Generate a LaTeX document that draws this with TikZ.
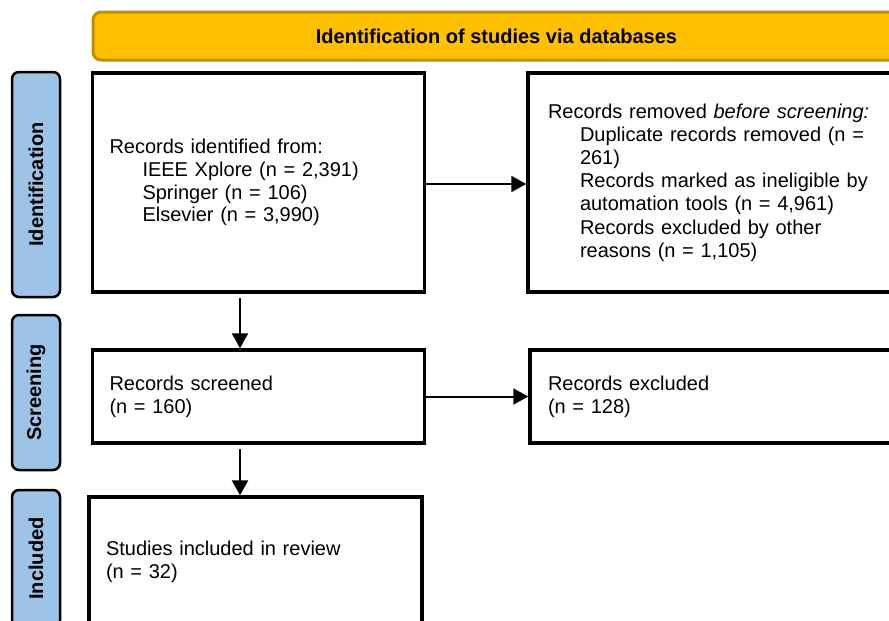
\documentclass[tikz,border=0pt]{standalone}
\usepackage{fontspec}
\setmainfont{Liberation Sans}
\usetikzlibrary{arrows.meta}
\definecolor{hdrfill}{HTML}{FFC000}
\definecolor{hdrdraw}{HTML}{BF9000}
\definecolor{lblfill}{HTML}{9DC3E6}
\begin{document}
\begin{tikzpicture}[x=1pt,y=-1pt,
  txt/.style={font=\fontsize{20}{22.8}\selectfont},
  box/.style={draw=black,line width=3.5pt,fill=white,inner xsep=17pt,inner ysep=0pt,
    align=left,txt,rectangle},
  header/.style={draw=hdrdraw,fill=hdrfill,line width=3pt,rounded corners=8pt,
    font=\bfseries\fontsize{20}{24}\selectfont,inner sep=0pt},
  phase/.style={draw=black,fill=lblfill,line width=2.5pt,rounded corners=7pt,
    rotate=90,font=\bfseries\fontsize{20}{24}\selectfont,inner sep=0pt,minimum height=48pt},
  arr/.style={line width=2.5pt,-{Triangle[width=16pt,length=15pt]}}]
\useasboundingbox (0,0) rectangle (889,621);

% header
\node[header,minimum width=807pt,minimum height=48pt] (hdr) at (496.5,36) {Identification of studies via databases};

% phase labels
\node[phase,minimum width=225pt] (pid) at (36,184.5) {Identification};
\node[phase,minimum width=155pt] (psc) at (36,392.5) {Screening};
\node[phase,minimum width=137pt] (pin) at (36,558.5) {Included};

% boxes
\node[box,minimum width=332pt,text width=298pt,minimum height=219pt] (b1) at (258.5,182.5)
  {Records identified from:\\
   \hspace*{33pt}IEEE Xplore (n = 2,391)\\
   \hspace*{33pt}Springer (n = 106)\\
   \hspace*{33pt}Elsevier (n = 3,990)};

\node[box,inner xsep=20pt,minimum width=372pt,text width=332pt,minimum height=219pt,
  font=\fontsize{20}{23.2}\selectfont] (b2) at (714,182.5)
  {\mbox{Records removed \textit{before screening:}}\\
   \mbox{\hspace*{32pt}Duplicate records removed (n =}\\
   \mbox{\hspace*{32pt}261)}\\
   \mbox{\hspace*{32pt}Records marked as ineligible by}\\
   \mbox{\hspace*{32pt}automation tools (n = 4,961)}\\
   \mbox{\hspace*{32pt}Records excluded by other}\\
   \mbox{\hspace*{32pt}reasons (n = 1,105)}};

\node[box,minimum width=332pt,text width=298pt,minimum height=93pt] (b3) at (258.5,396.5)
  {Records screened\\(n = 160)};

\node[box,inner xsep=18pt,minimum width=370pt,text width=334pt,minimum height=93pt] (b4) at (715,396.5)
  {Records excluded\\(n = 128)};

\node[box,minimum width=333pt,text width=299pt,minimum height=129pt] (b5) at (255.5,561.5)
  {Studies included in review\\(n = 32)};

% connectors
\draw[arr] ([xshift=-18.5pt,yshift=-4pt]b1.south) -- ([xshift=-18.5pt]b3.north);
\draw[arr] ([xshift=-18.5pt,yshift=-4pt]b3.south) -- ([xshift=-15.5pt]b5.north);
\draw[arr,line width=2pt] ([yshift=-1.5pt]b1.east) -- ([yshift=-1.5pt]b1.east -| b2.west);
\draw[arr,line width=2pt] (b3.east) -- (b3.east -| b4.west);
\end{tikzpicture}
\end{document}
